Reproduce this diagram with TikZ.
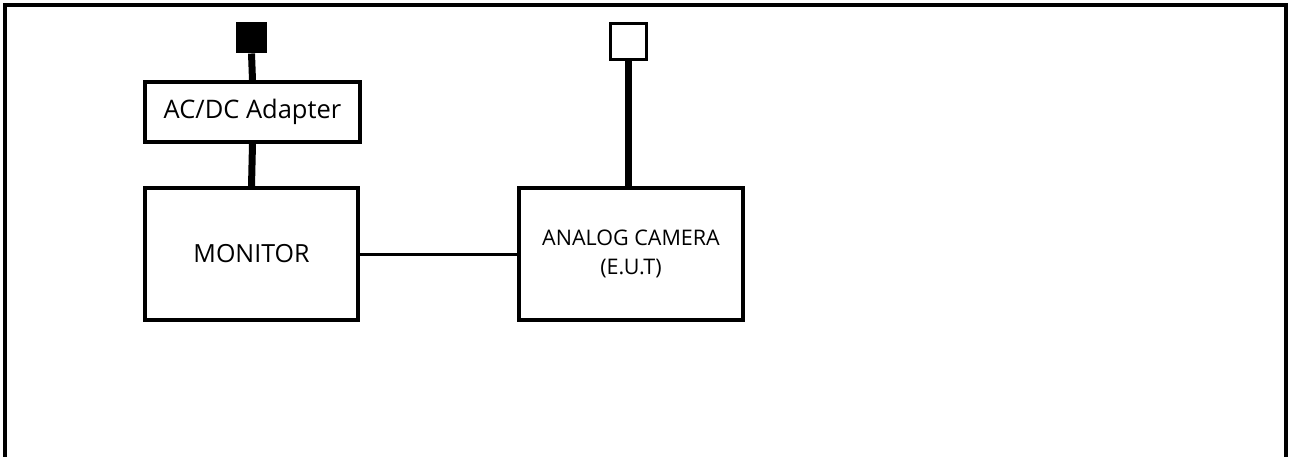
\documentclass[tikz,border=0pt]{standalone}
\usepackage{fontspec}
\setmainfont{Open Sans}
\begin{document}
\begin{tikzpicture}[x=1pt,y=-1pt,
  blk/.style={draw,line width=3.5pt,inner sep=0pt},
  thin blk/.style={draw,line width=3.5pt,inner sep=0pt,align=center,font=\fontsize{21.5}{29}\selectfont},
  stem/.style={line width=7pt},
  wire/.style={line width=3pt},
  frame/.style={line width=4pt}]
\useasboundingbox (0,0) rectangle (1289,457);
\draw[frame] (5,460) -- (5,5) -- (1286,5) -- (1286,460);
\node[blk,minimum width=215pt,minimum height=60pt,font=\fontsize{25.5}{30}\selectfont] (adapter) at (252.5,112) {AC/DC Adapter};
\node[blk,minimum width=213pt,minimum height=132pt,font=\fontsize{25}{30}\selectfont] (monitor) at (251.5,254) {MONITOR};
\node[thin blk,minimum width=224pt,minimum height=132pt] (camera) at (631,254) {ANALOG CAMERA\\(E.U.T)};
\node[draw,fill=black,line width=2pt,minimum size=29pt,inner sep=0pt] (plug) at (251.5,38) {};
\node[draw,fill=white,line width=3.5pt,minimum size=36pt,inner sep=0pt] (port) at (628.5,41.5) {};
\draw[stem] (plug.south) -- (adapter.north);
\draw[stem] (adapter.south) -- (monitor.north);
\draw[stem] (port.south) -- (port.south |- camera.north);
\draw[wire] (monitor.east) -- (camera.west);
\end{tikzpicture}
\end{document}
